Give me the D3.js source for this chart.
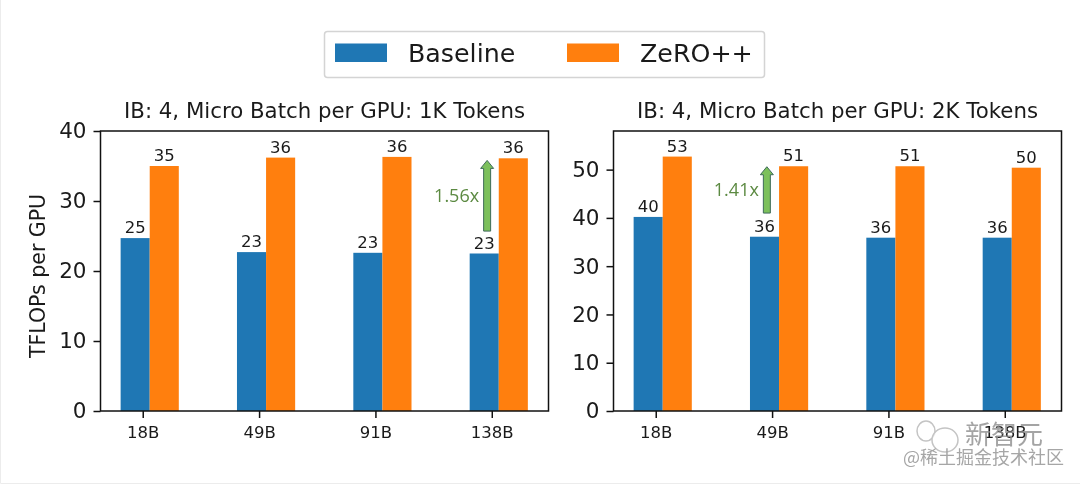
<!DOCTYPE html>
<html>
<head>
<meta charset="utf-8">
<script src="https://cdn.jsdelivr.net/npm/d3@7"></script>
<style>
  html, body { margin: 0; padding: 0; background: #fff; }
  svg { display: block; filter: blur(0.35px); }
  text { font-family: "DejaVu Sans", sans-serif; fill: #1a1a1a; }
</style>
</head>
<body>
<svg id="chart" width="1080" height="484"></svg>
<script>
var categories = ["18B", "49B", "91B", "138B"],
    seriesNames = ["Baseline", "ZeRO++"];

var baselineLeft = [24.7, 22.7, 22.6, 22.5],
    zeroLeft = [35.0, 36.2, 36.3, 36.1],
    baselineRight = [40.2, 36.1, 35.9, 35.9],
    zeroRight = [52.7, 50.7, 50.7, 50.4];

var labelsBaselineLeft = ["25", "23", "23", "23"],
    labelsZeroLeft = ["35", "36", "36", "36"],
    labelsBaselineRight = ["40", "36", "36", "36"],
    labelsZeroRight = ["53", "51", "51", "50"];

var ticksLeft = [0, 10, 20, 30, 40],
    ticksRight = [0, 10, 20, 30, 40, 50];

var colors = ["#1f77b4", "#ff7f0e"];

var svg = d3.select("#chart");

// faint edge of the screenshot
svg.append("path").attr("d", "M0.5,0V483.5H1080").attr("fill", "none").attr("stroke", "#ececec");

function panel(opts) {
    var x0 = opts.left, x1 = opts.left + 448, y0 = 411, y1 = 131;

    var x = d3.scaleLinear().domain([-0.363, 3.4875]).range([x0, x1]);
    var y = d3.scaleLinear().domain([0, opts.ymax]).range([y0, y1]);
    var barW = x(0.25) - x(0);

    var g = svg.append("g");

    [opts.a, opts.b].forEach(function(vals, s) {
        g.selectAll(".bar" + s).data(vals).enter().append("rect")
            .attr("x", function(d, i) { return x(i - 0.19 + s * 0.25); })
            .attr("y", function(d) { return y(d); })
            .attr("width", barW)
            .attr("height", function(d) { return y(0) - y(d); })
            .attr("fill", colors[s]);

        g.selectAll(".lab" + s).data(vals).enter().append("text")
            .attr("x", function(d, i) { return x(i - 0.19 + s * 0.25 + 0.125); })
            .attr("y", function(d) { return y(d) - 5; })
            .attr("text-anchor", "middle")
            .style("font-size", "16.5px")
            .text(function(d, i) { return (s ? opts.labB : opts.labA)[i]; });
    });

    // arrow from baseline up to zero
    var ax = x(opts.arrow.at);
    var ya = y(opts.arrow.from), yb = y(opts.arrow.to);
    g.append("path")
        .attr("d", "M" + (ax - 3.5) + "," + ya + "V" + (yb + 8) + "H" + (ax - 6.5) + "L" + ax + "," + yb +
            "L" + (ax + 6.5) + "," + (yb + 8) + "H" + (ax + 3.5) + "V" + ya + "Z")
        .attr("fill", "#7cc05c").attr("stroke", "#3f6b5a").attr("stroke-width", 1);
    g.append("text")
        .attr("x", ax - 8).attr("y", (ya + yb) / 2 + 6)
        .attr("text-anchor", "end")
        .style("font-family", "'Open Sans', sans-serif").style("font-size", "18px").style("fill", "#5c8a42")
        .text(opts.arrow.text);

    // axes
    var xAxis = d3.axisBottom(x).tickValues([0, 1, 2, 3])
        .tickFormat(function(d) { return categories[d]; }).tickSize(7).tickPadding(8);
    var gx = g.append("g").attr("transform", "translate(0," + y0 + ")").call(xAxis);
    gx.select(".domain").remove();
    gx.selectAll("line").attr("stroke", "#111").attr("stroke-width", 1.5);
    gx.selectAll("text").style("font-size", "16.5px");

    var yAxis = d3.axisLeft(y).tickValues(opts.ticks).tickSize(7).tickPadding(7);
    var gy = g.append("g").attr("transform", "translate(" + x0 + ",0)").call(yAxis);
    gy.select(".domain").remove();
    gy.selectAll("line").attr("stroke", "#111").attr("stroke-width", 1.5);
    gy.selectAll("text").style("font-size", "21.5px");

    g.append("rect").attr("x", x0).attr("y", y1).attr("width", x1 - x0).attr("height", y0 - y1)
        .attr("fill", "none").attr("stroke", "#111").attr("stroke-width", 1.5);

    g.append("text").attr("x", (x0 + x1) / 2).attr("y", 118)
        .attr("text-anchor", "middle").style("font-size", "21.3px").text(opts.title);
}

panel({
    left: 100.5, ymax: 40, a: baselineLeft, b: zeroLeft, labA: labelsBaselineLeft, labB: labelsZeroLeft,
    ticks: ticksLeft, title: "IB: 4, Micro Batch per GPU: 1K Tokens",
    arrow: {at: 2.96, from: 25.7, to: 35.8, text: "1.56x"}
});
panel({
    left: 613.5, ymax: 58, a: baselineRight, b: zeroRight, labA: labelsBaselineRight, labB: labelsZeroRight,
    ticks: ticksRight, title: "IB: 4, Micro Batch per GPU: 2K Tokens",
    arrow: {at: 0.955, from: 41, to: 50.6, text: "1.41x"}
});

svg.append("text").attr("transform", "translate(45,276) rotate(-90)")
    .attr("text-anchor", "middle").style("font-size", "20.5px").text("TFLOPs per GPU");

// legend
var legend = svg.append("g");
legend.append("rect").attr("x", 324.5).attr("y", 31.5).attr("width", 440).attr("height", 46).attr("rx", 3)
    .attr("fill", "#fff").attr("stroke", "#d4d4d4").attr("stroke-width", 1.5);
var legendX = d3.scalePoint().domain(seriesNames).range([335, 567]);
seriesNames.forEach(function(n, i) {
    legend.append("rect").attr("x", legendX(n)).attr("y", 43.5).attr("width", 52).attr("height", 18.5).attr("fill", colors[i]);
    legend.append("text").attr("x", legendX(n) + 73).attr("y", 62).style("font-size", "25.3px").text(n);
});

// watermark
var wm = svg.append("g");
wm.append("ellipse").attr("cx", 926).attr("cy", 431).attr("rx", 9).attr("ry", 10)
    .attr("fill", "none").attr("stroke", "#c4c4c4").attr("stroke-width", 1.5);
wm.append("ellipse").attr("cx", 945).attr("cy", 440).attr("rx", 13).attr("ry", 12)
    .attr("fill", "#fff").attr("fill-opacity", 0.7).attr("stroke", "#c4c4c4").attr("stroke-width", 1.5);
wm.append("text").attr("x", 965).attr("y", 444)
    .style("font-family", "'Noto Sans CJK SC'").style("font-size", "26px").style("fill", "#8d8d8d").style("fill-opacity", 0.8).text("新智元");
wm.append("text").attr("x", 903).attr("y", 464)
    .style("font-family", "'Noto Sans CJK SC'").style("font-size", "18px").style("fill", "#a6a6a6").text("@稀土掘金技术社区");
</script>
</body>
</html>
